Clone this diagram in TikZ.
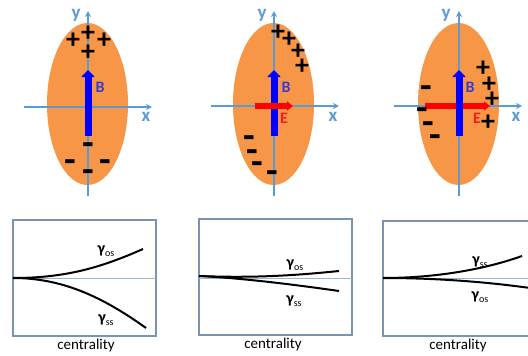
\documentclass[tikz,border=0pt]{standalone}
\usepackage{fontspec}
\setmainfont{Carlito}
\usetikzlibrary{shapes.geometric,arrows.meta}
\definecolor{orng}{HTML}{F79646}
\definecolor{axisblue}{HTML}{5B9BD5}
\definecolor{boxblue}{HTML}{7A93B5}
\definecolor{lineblue}{HTML}{9DB4CF}
\definecolor{blabel}{HTML}{3A3ACC}
\definecolor{elabel}{HTML}{F02020}
\tikzset{
  ell/.style={ellipse, fill=orng, minimum width=81pt, minimum height=162pt, inner sep=0pt},
  axisline/.style={draw=axisblue, line width=1.1pt, -{Stealth[length=6pt,width=6pt]}},
  axislbl/.style={text=axisblue, font=\fontsize{19}{19}\selectfont\bfseries, inner sep=0pt},
  bvec/.style={draw=blue, line width=7pt, -{Triangle[length=7pt,width=13pt]}},
  evec/.style={draw=red, line width=6pt, -{Triangle[length=6pt,width=9pt]}},
  blbl/.style={text=blabel, font=\fontsize{16}{16}\selectfont\bfseries, inner sep=0pt},
  elbl/.style={text=elabel, font=\fontsize{16}{16}\selectfont\bfseries, inner sep=0pt},
  pluschg/.style={font=\fontsize{28}{28}\selectfont\bfseries, inner sep=0pt},
  minuschg/.style={font=\fontsize{38}{38}\selectfont\bfseries, inner sep=0pt, yshift=-4.5pt},
  boxframe/.style={draw=boxblue, line width=1.2pt},
  hline/.style={draw=lineblue, line width=1pt},
  curve/.style={draw=black, line width=2pt},
  glbl/.style={inner sep=0pt},
  centr/.style={font=\fontsize{15}{15}\selectfont, inner sep=0pt}
}
\newcommand{\gsub}[1]{{\fontsize{16}{16}\selectfont\bfseries γ}\raisebox{-3pt}{\fontsize{10}{10}\selectfont #1}}
\begin{document}
\begin{tikzpicture}[x=1pt,y=-1pt]
\useasboundingbox (0,0) rectangle (528,356);
\clip (0,0) rectangle (528,356);
% ---------- panel 1 ----------
\node[ell] (e1) at (87.5,104) {};
\coordinate (y1a) at (88,196); \coordinate (y1b) at (88,11);
\coordinate (x1a) at (24,107); \coordinate (x1b) at (152,107);
\draw[axisline] (y1a) -- (y1b);
\draw[axisline] (x1a) -- (x1b);
\node[axislbl] (ly1) at (76,15) {y};
\node[axislbl] (lx1) at (146,117) {x};
\coordinate (b1a) at (88,136); \coordinate (b1b) at (88,70);
\draw[bvec] (b1a) -- (b1b);
\node[blbl] (lb1) at (100,87) {B};
\node[pluschg] (p1a) at (73,41) {+};
\node[pluschg] (p1b) at (88,34) {+};
\node[pluschg] (p1c) at (104,41) {+};
\node[pluschg] (p1d) at (88,53) {+};
\node[minuschg] (m1a) at (88,145) {-};
\node[minuschg] (m1b) at (70,162) {-};
\node[minuschg] (m1c) at (105,162) {-};
\node[minuschg] (m1d) at (88,172) {-};
% ---------- panel 2 ----------
\node[ell] (e2) at (273.5,104) {};
\coordinate (y2a) at (274,196); \coordinate (y2b) at (274,11);
\coordinate (x2a) at (211,106); \coordinate (x2b) at (339,106);
\draw[axisline] (y2a) -- (y2b);
\draw[axisline] (x2a) -- (x2b);
\node[axislbl] (ly2) at (262,15) {y};
\node[axislbl] (lx2) at (333,117) {x};
\coordinate (b2a) at (274,136); \coordinate (b2b) at (274,70);
\draw[bvec] (b2a) -- (b2b);
\coordinate (e2a) at (255,106); \coordinate (e2b) at (293,106);
\draw[evec] (e2a) -- (e2b);
\node[blbl] (lb2) at (286,87) {B};
\node[elbl] (le2) at (284,118) {E};
\node[pluschg] (p2a) at (278,33) {+};
\node[pluschg] (p2b) at (289,40) {+};
\node[pluschg] (p2c) at (298,52) {+};
\node[pluschg] (p2d) at (302,67) {+};
\node[minuschg] (m2a) at (249,138) {-};
\node[minuschg] (m2b) at (252,152) {-};
\node[minuschg] (m2c) at (257,164) {-};
\node[minuschg] (m2d) at (272,173) {-};
% ---------- panel 3 ----------
\node[ell] (e3) at (458.5,104) {};
\coordinate (y3a) at (459,196); \coordinate (y3b) at (459,11);
\coordinate (x3a) at (394,106); \coordinate (x3b) at (522,106);
\draw[axisline] (y3a) -- (y3b);
\draw[axisline] (x3a) -- (x3b);
\node[axislbl] (ly3) at (446,15) {y};
\node[axislbl] (lx3) at (516,117) {x};
\coordinate (e3a) at (425,106); \coordinate (e3b) at (490,106);
\draw[evec] (e3a) -- (e3b);
\coordinate (b3a) at (459,136); \coordinate (b3b) at (459,70);
\draw[bvec] (b3a) -- (b3b);
\node[blbl] (lb3) at (470,87) {B};
\node[elbl] (le3) at (477,118) {E};
\node[pluschg] (p3a) at (483,69) {+};
\node[pluschg] (p3b) at (489,85) {+};
\node[pluschg] (p3c) at (492,100) {+};
\node[pluschg] (p3d) at (488,123) {+};
\node[minuschg] (m3a) at (426,88) {-};
\node[minuschg] (m3b) at (422,110) {-};
\node[minuschg] (m3c) at (428,124) {-};
\node[minuschg] (m3d) at (435,137) {-};
% ---------- lower panel 1 ----------
\draw[boxframe] (13,220) rectangle (156,336);
\coordinate (h1a) at (13,278); \coordinate (h1b) at (156,278);
\draw[hline] (h1a) -- (h1b);
\coordinate (c1s) at (13,278);
\coordinate (c1u) at (143,249); \coordinate (c1l) at (146,328);
\draw[curve] (c1s) .. controls (65,278) and (100,268) .. (c1u);
\draw[curve] (c1s) .. controls (60,278) and (100,295) .. (c1l);
\node[glbl] (g1u) at (106,251) {\gsub{os}};
\node[glbl] (g1l) at (106,320) {\gsub{ss}};
\node[centr] (t1) at (86,345) {centrality};
% ---------- lower panel 2 ----------
\draw[boxframe] (199,219) rectangle (352,335);
\coordinate (h2a) at (199,278); \coordinate (h2b) at (352,278);
\draw[hline] (h2a) -- (h2b);
\coordinate (c2s) at (199,276);
\coordinate (c2u) at (339,271); \coordinate (c2l) at (339,291);
\draw[curve] (c2s) .. controls (250,278) and (290,276) .. (c2u);
\draw[curve] (c2s) .. controls (240,278) and (290,284) .. (c2l);
\node[glbl] (g2u) at (295,265) {\gsub{os}};
\node[glbl] (g2l) at (294,301) {\gsub{ss}};
\node[centr] (t2) at (273,344) {centrality};
% ---------- lower panel 3 ----------
\draw[boxframe] (383,221) rectangle (540,336);
\coordinate (h3a) at (383,278); \coordinate (h3b) at (540,278);
\draw[hline] (h3a) -- (h3b);
\coordinate (c3s) at (383,278);
\coordinate (c3u) at (522,256); \coordinate (c3l) at (530,288);
\draw[curve] (c3s) .. controls (430,278) and (480,271) .. (c3u);
\draw[curve] (c3s) .. controls (430,278) and (480,281) .. (c3l);
\node[glbl] (g3u) at (480,262) {\gsub{ss}};
\node[glbl] (g3l) at (480,297) {\gsub{os}};
\node[centr] (t3) at (458,345) {centrality};
\end{tikzpicture}
\end{document}
